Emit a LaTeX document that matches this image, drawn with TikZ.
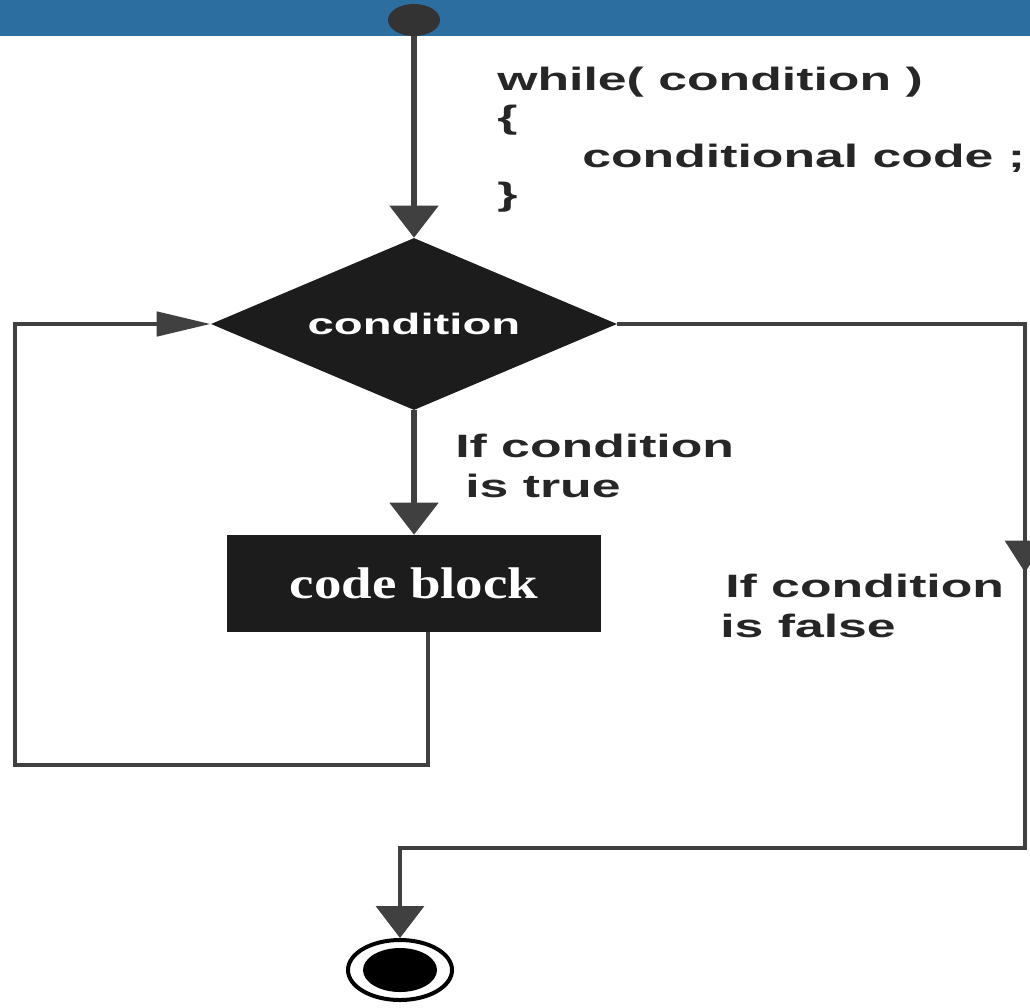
\documentclass[tikz,border=0pt]{standalone}
\usepackage{fontspec}
\usetikzlibrary{shapes.geometric, arrows.meta, decorations.markings}
\newfontfamily\labelfont[FakeStretch=1.6]{Liberation Sans}
\newfontfamily\blockfont[FakeStretch=1.24]{Liberation Serif}
\definecolor{bandblue}{HTML}{2C6EA0}
\definecolor{linegray}{HTML}{404040}
\definecolor{boxblack}{HTML}{1C1C1C}
\tikzstyle{flow} = [color = linegray, line width = 0.13cm, -{Triangle[width = 1.2cm, length = 0.8cm]}]
\tikzstyle{loopflow} = [color = linegray, line width = 0.12cm, -{Triangle[width = 0.6cm, length = 1.35cm]}]
\tikzstyle{decision} = [diamond, aspect = 2.4, fill = boxblack, inner sep = 0pt, minimum width = 10.15cm, minimum height = 4.3cm, text = white, font = \labelfont\bfseries\fontsize{21}{25}\selectfont]
\tikzstyle{block} = [rectangle, fill = boxblack, inner sep = 0pt, minimum width = 9.325cm, minimum height = 2.425cm, text = white, font = \blockfont\bfseries\fontsize{31.5}{36}\selectfont]
\tikzstyle{txt} = [anchor = base west, inner sep = 0pt, text = black!85, font = \labelfont\bfseries\fontsize{23}{27}\selectfont]

\begin{document}
\begin{tikzpicture}[x = 0.025cm, y = -0.025cm]
    \useasboundingbox (0, 0) rectangle (1030, 1007);
    \fill [bandblue] (0, 0) rectangle (1030, 36);

    \node (start) at (414, 20) [ellipse, fill = black!80, inner sep = 0pt, minimum width = 1.3cm, minimum height = 0.8cm] {};
    \node (cond) at (414, 324) [decision] {condition};
    \node (code) at (414, 583.5) [block] {code block};
    \node (stop) at (400, 970) [ellipse, draw = black, line width = 0.1cm, inner sep = 0pt, minimum width = 2.6cm, minimum height = 1.5cm] {};
    \node (stopdot) at (400, 970) [ellipse, fill = black, inner sep = 0pt, minimum width = 1.85cm, minimum height = 1.1cm] {};

    \node (while) at (497, 90) [txt] {while( condition )};
    \node (lbrace) at (497, 128.5) [txt] {\{};
    \node (body) at (582, 167) [txt] {conditional code ;};
    \node (rbrace) at (497, 205.5) [txt] {\}};

    \node (truea) at (455, 457) [txt] {If condition};
    \node (trueb) at (465, 497) [txt] {is true};
    \node (falsea) at (725, 597) [txt] {If condition};
    \node (falseb) at (720, 637) [txt] {is false};

    \coordinate (loopleft) at (15, 765);
    \coordinate (exitcorner) at (1025, 848);

    \draw [flow] (start) -- (cond.north);
    \draw [flow] (cond.south) -- (code.north);
    \draw [loopflow] ([xshift = 0.35cm]code.south) |- (loopleft) |- (cond.west);
    \draw [flow, line width = 0.09cm, postaction = {decorate},
        decoration = {markings, mark = at position 16.4cm with {\arrow{Triangle[width = 1.0cm, length = 0.8cm]}}}]
        (cond.east) -| (exitcorner) -| (stop.north);
\end{tikzpicture}
\end{document}
